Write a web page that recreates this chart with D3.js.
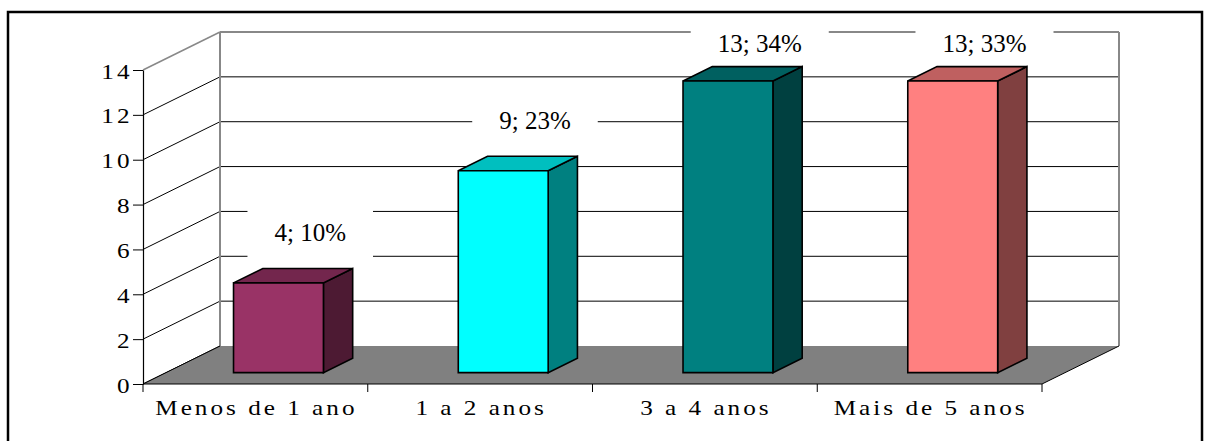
<!DOCTYPE html>
<html>
<head>
<meta charset="utf-8">
<script src="https://cdn.jsdelivr.net/npm/d3@7"></script>
<style>
  html, body { margin: 0; padding: 0; background: #fff; }
  svg { display: block; }
</style>
</head>
<body>
<svg id="chart" width="1205" height="441"></svg>
<script>
// Years of service, respondent counts and share of total
const categories = ["Menos de 1 ano", "1 a 2 anos", "3 a 4 anos", "Mais de 5 anos"];
const counts = [4, 9, 13, 13];
const percents = [10, 23, 34, 33];
const yTicks = [0, 2, 4, 6, 8, 10, 12, 14];
const barColors = ["#993366", "#00FFFF", "#008080", "#FF8080"];

const svg = d3.select("#chart");
const serif = '"Liberation Serif"';
const axisStretch = 1.2;   // axis text is set slightly expanded

// Axis text: Times-like, expanded and spaced
const styleAxisText = sel => sel
  .style("font-family", serif)
  .style("font-size", "21px")
  .style("letter-spacing", "2.5px")
  .attr("fill", "#000");

// Front plane of the 3D box
const plotLeft = 143, plotRight = 1042, plotBottom = 384, plotTop = 70;
// Full depth offset of the box (front plane -> back wall)
const depthX = 77, depthY = -38;
// Depth fractions occupied by the bars
const barF0 = 0.30, barF1 = 0.68;

const x = d3.scaleBand().domain(categories).range([plotLeft, plotRight])
  .paddingInner(0.6).paddingOuter(0.3);
const y = d3.scaleLinear().domain([0, 14]).range([plotBottom, plotTop]);

const proj = (px, py, f) => [px + f * depthX, py + f * depthY];
const pts = arr => arr.map(p => p.join(",")).join(" ");

// Outer frame
svg.append("rect")
  .attr("x", 8).attr("y", 12).attr("width", 1194).attr("height", 440)
  .attr("fill", "none").attr("stroke", "#000").attr("stroke-width", 2.5);

const yMax = d3.max(y.domain());

// Back wall gridlines and side wall diagonals
const grid = svg.append("g");
yTicks.forEach(t => {
  const isTop = t === yMax;
  const [bx0, by] = proj(plotLeft, y(t), 1);
  const [bx1] = proj(plotRight, y(t), 1);
  if (t !== 0) {
    grid.append("line")
      .attr("x1", bx0).attr("x2", bx1).attr("y1", by).attr("y2", by)
      .attr("stroke", isTop ? "#888" : "#000")
      .attr("stroke-width", isTop ? 2 : 1);
  }
  grid.append("line")
    .attr("x1", plotLeft).attr("y1", y(t)).attr("x2", bx0).attr("y2", by)
    .attr("stroke", isTop ? "#888" : "#000")
    .attr("stroke-width", isTop ? 1.5 : 1);
});

// Back wall vertical edges
[plotLeft, plotRight].forEach(px => {
  const [bx, by0] = proj(px, y(0), 1);
  const [, by1] = proj(px, y(yMax), 1);
  grid.append("line")
    .attr("x1", bx).attr("x2", bx).attr("y1", by0).attr("y2", by1)
    .attr("stroke", "#888").attr("stroke-width", 2);
});

// Floor
svg.append("polygon")
  .attr("points", pts([
    [plotLeft, y(0)], [plotRight, y(0)], proj(plotRight, y(0), 1), proj(plotLeft, y(0), 1)
  ]))
  .attr("fill", "#808080").attr("stroke", "none");
svg.append("line")
  .attr("x1", plotRight).attr("y1", y(0))
  .attr("x2", proj(plotRight, y(0), 1)[0]).attr("y2", proj(plotRight, y(0), 1)[1])
  .attr("stroke", "#000").attr("stroke-width", 1);
svg.append("line")
  .attr("x1", plotLeft).attr("y1", y(0))
  .attr("x2", proj(plotLeft, y(0), 1)[0]).attr("y2", proj(plotLeft, y(0), 1)[1])
  .attr("stroke", "#000").attr("stroke-width", 1);

// Value labels: white boxes sit behind the bars, text above everything
const labelData = categories.map((c, i) => {
  const cx = x(c) + x.bandwidth() / 2 + barF1 * depthX + 2.5;
  const topBack = proj(0, y(counts[i]), barF1)[1];
  const baseline = Math.max(topBack - 27, proj(0, y(yMax), 1)[1] + 20);
  return { cx, baseline, text: `${counts[i]}; ${percents[i]}%` };
});

const labelBoxes = svg.append("g");

// Bars (front, top and side faces)
const shade = (col, k) => {
  const c = d3.rgb(col);
  return d3.rgb(c.r * k, c.g * k, c.b * k).formatHex();
};
const bars = svg.append("g");
categories.forEach((c, i) => {
  const x0 = x(c), x1 = x(c) + x.bandwidth();
  const y0 = y(0), y1 = y(counts[i]);
  const fA = [proj(x0, y1, barF0), proj(x1, y1, barF0), proj(x1, y0, barF0), proj(x0, y0, barF0)];
  const tA = [proj(x0, y1, barF0), proj(x0, y1, barF1), proj(x1, y1, barF1), proj(x1, y1, barF0)];
  const sA = [proj(x1, y1, barF0), proj(x1, y1, barF1), proj(x1, y0, barF1), proj(x1, y0, barF0)];
  const g = bars.append("g")
    .attr("stroke", "#000").attr("stroke-width", 1.6).attr("stroke-linejoin", "miter");
  g.append("polygon").attr("points", pts(sA)).attr("fill", shade(barColors[i], 0.5));
  g.append("polygon").attr("points", pts(tA)).attr("fill", shade(barColors[i], 0.75));
  g.append("polygon").attr("points", pts(fA)).attr("fill", barColors[i]);
});

const labelTexts = svg.append("g");
labelData.forEach(d => {
  const t = labelTexts.append("text")
    .style("font-family", serif)
    .style("font-size", "25px")
    .attr("fill", "#000")
    .attr("x", d.cx).attr("y", d.baseline)
    .attr("text-anchor", "middle")
    .text(d.text);
  const bb = t.node().getBBox();
  labelBoxes.append("rect")
    .attr("x", bb.x - 27).attr("width", bb.width + 54)
    .attr("y", d.baseline - 33).attr("height", 52)
    .attr("fill", "#fff");
});

// Front value axis
const yAxis = svg.append("g")
  .attr("transform", `translate(${plotLeft},0)`)
  .call(d3.axisLeft(y).tickValues(yTicks).tickSize(10).tickSizeOuter(0));
yAxis.attr("font-family", null).attr("font-size", null);
yAxis.select(".domain").attr("stroke", "#000").attr("stroke-width", 1.2);
yAxis.selectAll(".tick line").attr("stroke", "#000");
yAxis.selectAll(".tick text")
  .call(styleAxisText)
  .attr("x", 0).attr("y", 0).attr("dy", null)
  .attr("text-anchor", "end")
  .attr("transform", `translate(-10.5,8) scale(${axisStretch},1)`);

// Category axis: baseline, boundary ticks, labels
const xg = svg.append("g");
xg.append("line")
  .attr("x1", plotLeft).attr("x2", plotRight).attr("y1", y(0)).attr("y2", y(0))
  .attr("stroke", "#000").attr("stroke-width", 1.2);
const step = x.step();
d3.range(categories.length + 1).forEach(k => {
  const px = plotLeft + k * step;
  xg.append("line")
    .attr("x1", px).attr("x2", px).attr("y1", y(0)).attr("y2", y(0) + 8)
    .attr("stroke", "#000").attr("stroke-width", 1);
});
xg.selectAll("text.cat")
  .data(categories)
  .join("text")
  .attr("class", "cat")
  .call(styleAxisText)
  .attr("text-anchor", "middle")
  .attr("transform", c =>
    `translate(${x(c) + x.bandwidth() / 2 + 1},${y(0) + 31}) scale(${axisStretch},1)`)
  .text(c => c);
</script>
</body>
</html>
